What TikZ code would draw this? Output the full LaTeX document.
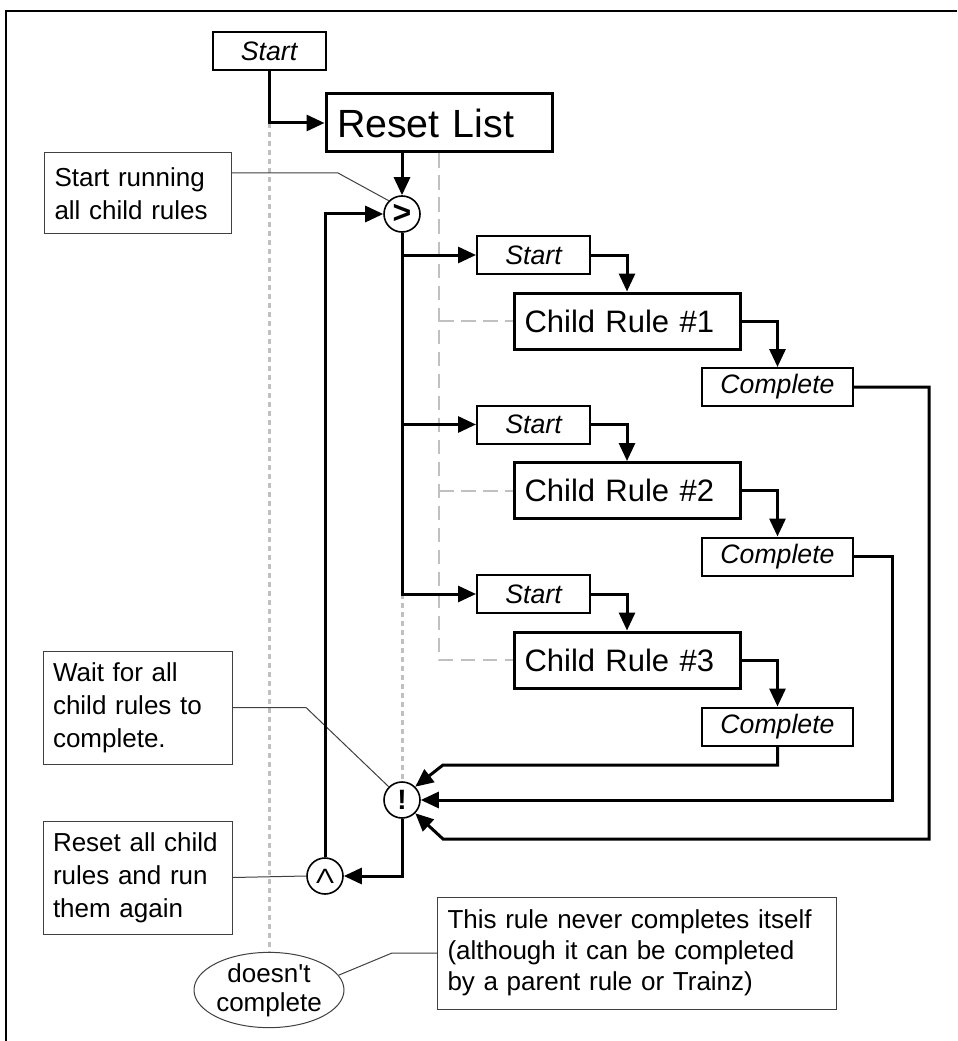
\documentclass[tikz,border=0pt]{standalone}
\usepackage{fontspec}
\setmainfont{Liberation Sans}
\usetikzlibrary{arrows.meta,shapes.geometric}

\definecolor{guide}{RGB}{192,192,192}
\definecolor{note}{RGB}{64,64,64}

\tikzset{
  conn/.style={line width=2.25pt, -{Triangle[length=13.5pt,width=12pt]}},
  dotguide/.style={guide, line width=2.25pt, dash pattern=on 3.75pt off 3pt},
  dashguide/.style={guide, line width=1.5pt, dash pattern=on 11pt off 5.5pt},
  lead/.style={note, line width=0.75pt},
  evbox/.style={draw, fill=white, line width=1.5pt, minimum width=84.75pt,
    minimum height=28.5pt, inner sep=0pt,
    font=\fontsize{20}{23}\selectfont\itshape},
  rulebox/.style={draw, fill=white, line width=2.25pt, minimum height=42pt,
    inner ysep=0pt, inner xsep=7.9pt, text width=153.7pt, align=left,
    font=\fontsize{23.25}{27}\selectfont},
  gate/.style={circle, draw, fill=white, line width=1.2pt, minimum size=27pt,
    inner sep=0pt, font=\fontsize{21}{23}\selectfont\bfseries},
  callout/.style={draw=note, fill=white, line width=0.75pt, align=left,
    inner xsep=7.5pt, inner ysep=0pt,
    font=\fontsize{19.5}{24.75}\selectfont},
}

\begin{document}
\begin{tikzpicture}[x=0.75pt,y=-0.75pt]
\fill[white] (0,0) rectangle (957,1041);
\useasboundingbox (0,0) rectangle (957,1041);

% frame
\draw[line width=1.5pt] (957,11) -- (6,11) -- (6,1041);

% parent rule
\node[evbox] (s0) at (269,51) {Start};
\node[rulebox, minimum height=43.5pt, inner xsep=8.25pt, text width=153pt,
  font=\fontsize{29.5}{33}\selectfont] (reset) at (439,123) {Reset List};
\node[gate, font=\fontsize{24}{24}\selectfont\bfseries] (gt) at (402,214) {>};

% child rules
\node[evbox] (st1) at (533.5,255) {Start};
\node[rulebox] (ch1) at (627,321) {Child Rule \#1};
\node[evbox, minimum width=113.25pt] (co1) at (777.5,387) {Complete};

\node[evbox] (st2) at (533.5,424.5) {Start};
\node[rulebox] (ch2) at (627,490.5) {Child Rule \#2};
\node[evbox, minimum width=113.25pt] (co2) at (777.5,556.5) {Complete};

\node[evbox] (st3) at (533.5,594) {Start};
\node[rulebox] (ch3) at (627,660) {Child Rule \#3};
\node[evbox, minimum width=113.25pt] (co3) at (777.5,726.5) {Complete};

% wait and reset gates
\node[gate] (bang) at (402,800) {!};
\node[gate, font=\fontsize{15.5}{16}\selectfont] (caret) at (325,876)
  {\scalebox{1.3}[1]{Λ}};

% end marker
\node[ellipse, draw=note, fill=white, line width=0.75pt, minimum width=112.5pt,
  minimum height=56.25pt, inner sep=0pt, align=center,
  font=\fontsize{19.5}{21.75}\selectfont] (dc) at (269,990)
  {doesn\textquotesingle t\\complete};

% notes
\node[callout, text width=125.25pt, minimum height=60.75pt] (c1) at (138,193.5)
  {Start running\\all child rules};
\node[callout, text width=126.75pt, minimum height=84.75pt] (c2) at (137.5,707.5)
  {Wait for all\\child rules to\\complete.};
\node[callout, text width=126.75pt, minimum height=84.75pt] (c3) at (137.5,877.5)
  {Reset all child\\rules and run\\them again};
\node[callout, text width=284.25pt, minimum height=84pt,
  font=\fontsize{19.5}{23.25}\selectfont] (c4) at (637,953)
  {This rule never completes itself\\(although it can be completed\\by a parent rule or Trainz)};

% guide lines
\draw[dotguide] (s0.south |- reset.west) -- (dc.north);
\draw[dotguide] (gt.south |- st3.west) -- (bang.north);
\draw[dashguide] (reset.south) |- (ch3.west);
\draw[dashguide] (reset.south |- ch1.west) -- (ch1.west);
\draw[dashguide] (reset.south |- ch2.west) -- (ch2.west);

% note leaders
\coordinate (k1) at (338,173);
\coordinate (k2) at (306,707.5);
\coordinate (k4) at (392,953);
\draw[lead] (c1.east |- k1) -- (k1) -- (gt.135);
\draw[lead] (c2.east) -- (k2) -- (bang.135);
\draw[lead] (c3.east) -- (caret.west);
\draw[lead] (c4.west) -- (k4) -- (dc.12);

% flow
\draw[conn] (s0.south) |- (reset.west);
\draw[conn] (reset.south -| gt.north) -- (gt.north);
\draw[conn] (gt.south) |- (st3.west);
\draw[conn] (gt.south |- st1.west) -- (st1.west);
\draw[conn] (gt.south |- st2.west) -- (st2.west);

\draw[conn] (st1.east) -| (ch1.north);
\draw[conn] (ch1.east) -| (co1.north);
\draw[conn] (st2.east) -| (ch2.north);
\draw[conn] (ch2.east) -| (co2.north);
\draw[conn] (st3.east) -| (ch3.north);
\draw[conn] (ch3.east) -| (co3.north);

% completions feed the wait gate
\coordinate (r1) at (929,839);
\coordinate (b1) at (443,839);
\coordinate (r2) at (892,800);
\coordinate (b3) at (443,765);
\draw[conn] (co1.east) -| (r1) -- (b1) -- (bang.-45);
\draw[conn] (co2.east) -| (r2) -- (bang.east);
\draw[conn] (co3.south) |- (b3) -- (bang.45);

% restart loop
\draw[conn] (bang.south) |- (caret.east);
\draw[conn] (caret.north) |- (gt.west);
\end{tikzpicture}
\end{document}
